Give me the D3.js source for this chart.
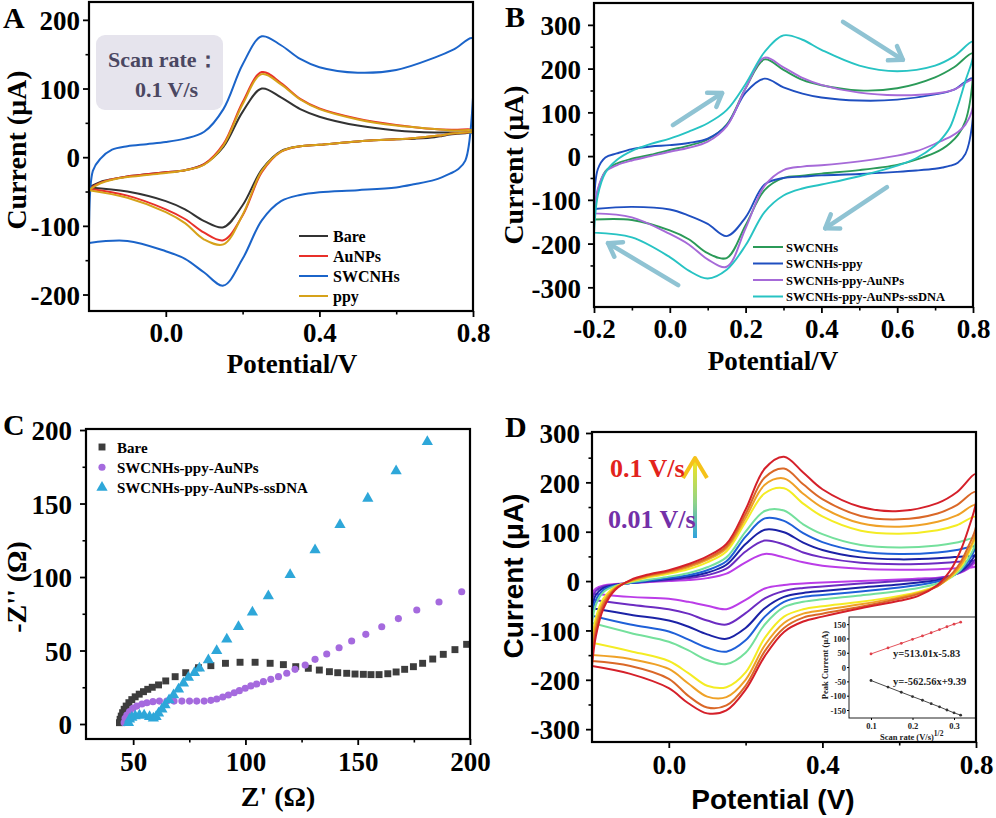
<!DOCTYPE html>
<html><head><meta charset="utf-8">
<script src="https://cdn.jsdelivr.net/npm/d3@7"></script>
<style>body{margin:0;background:#fff}svg{display:block}</style>
</head><body><svg id="c" width="996" height="818"></svg>
<script>
// ================= DATA =================
// common potential grids (V): forward (upper) and reverse (lower) branches
const E_UP = [-0.2,-0.19,-0.17,-0.14,-0.1,-0.05,0,0.05,0.1,0.15,0.2,0.25,0.3,0.35,0.4,0.5,0.6,0.7,0.75,0.8];
const E_DN = [0.8,0.78,0.76,0.74,0.72,0.7,0.65,0.6,0.5,0.4,0.35,0.3,0.25,0.2,0.15,0.1,0.05,0,-0.1,-0.2];

// Panel A (µA)
const A_names = ["Bare","AuNPs","SWCNHs","ppy"];
const A_colors = ["#333333","#e8302a","#1b64c9","#d6a21a"];
const A_bare_up = [-44,-41,-36,-32,-28,-25,-22,-19,-10,15,66,100,87,70,59,46,39,36,36,36];
const A_bare_dn = [36,35,34,33,31,29,27,26,23,18,16,9,-18,-70,-102,-93,-76,-64,-50,-44];
const A_au_up   = [-46,-43,-37,-32,-28,-25,-22,-19,-10,19,80,124,108,85,71,56,47,41,40,40];
const A_au_dn   = [38,36,35,34,32,31,28,26,23,18,16,8,-22,-85,-121,-110,-90,-76,-56,-46];
const A_sw_up   = [-125,-20,-2,11,16,19,22,27,37,70,135,176,163,143,131,123,127,145,157,173];
const A_sw_dn   = [87,-5,-18,-24,-29,-33,-39,-44,-48,-51,-55,-64,-92,-148,-187,-168,-148,-137,-122,-125];
const A_ppy_up  = [-48,-44,-38,-33,-29,-26,-23,-19,-11,17,77,121,106,84,70,55,46,41,39,39];
const A_ppy_dn  = [37,36,35,34,32,31,28,26,23,18,16,8,-20,-84,-127,-120,-96,-80,-59,-48];

// Panel B (µA)
const B_names = ["SWCNHs","SWCNHs-ppy","SWCNHs-ppy-AuNPs","SWCNHs-ppy-AuNPs-ssDNA"];
const B_colors = ["#2b9a58","#1f4fc0","#a66ad8","#27c3c3"];
const B_sw_up  = [-145,-80,-35,-17,-6,3,14,24,38,72,155,221,197,174,162,150,155,180,203,235];
const B_sw_dn  = [182,80,48,30,17,8,-8,-20,-32,-40,-45,-50,-78,-158,-233,-222,-190,-170,-146,-145];
const B_ppy_up = [-121,-30,-3,6,16,22,25,30,40,70,145,177,157,143,134,127,129,141,152,178];
const B_ppy_dn = [90,5,-15,-22,-26,-29,-33,-36,-41,-44,-47,-50,-65,-140,-183,-155,-136,-122,-116,-121];
const B_au_up  = [-131,-75,-36,-21,-10,0,10,19,33,68,155,225,203,179,163,145,139,143,152,174];
const B_au_dn  = [113,72,55,44,36,28,11,1,-12,-21,-24,-32,-68,-165,-253,-236,-202,-178,-140,-131];
const B_dna_up = [-175,-90,-38,-9,12,28,40,56,75,105,165,238,276,266,243,207,194,207,228,262];
const B_dna_dn = [227,172,115,67,42,24,-5,-22,-46,-65,-74,-90,-128,-204,-260,-280,-262,-231,-186,-175];
// direction arrows [E0,I0,E1,I1]
const B_arrows = [[0.008,71,0.138,144],[0.457,307,0.615,220],[0.573,-71,0.41,-165],[0.022,-295,-0.163,-199]];

// Panel C (Ω)
const C_names = ["Bare","SWCNHs-ppy-AuNPs","SWCNHs-ppy-AuNPs-ssDNA"];
const C_bare_x = [43.9,44.2,44.7,45.3,46.0,46.9,48.1,49.4,50.9,52.7,54.6,56.5,58.5,61.3,64.5,68.7,73.4,79.1,84.6,91.1,97.6,104.3,111.0,116.9,122.4,128.0,132.9,137.4,141.1,145.1,148.8,152.5,155.9,159.5,163.4,167.1,170.9,174.8,178.9,183.4,188.1,193.3,198.5];
const C_bare_y = [0.9,3.2,5.4,7.7,10.0,12.2,14.5,16.6,18.5,20.3,22.0,23.6,25.0,26.6,29.3,32.2,34.9,38.3,39.7,41.3,42.0,42.0,41.3,40.4,39.0,37.9,36.7,35.6,34.9,34.5,34.0,33.8,33.6,33.6,34.2,35.4,37.2,39.0,41.3,44.2,47.4,50.6,54.2];
const C_au_x = [46.0,46.4,47.2,48.4,49.9,51.6,53.9,56.1,58.8,61.7,65.0,68.2,71.7,75.1,78.3,81.6,84.6,87.2,89.9,92.4,95.0,97.3,99.9,102.4,105.0,108.0,111.3,114.7,118.4,122.1,126.6,131.0,136.2,141.7,147.3,153.6,160.7,168.1,176.3,186.2,196.3];
const C_au_y = [0.9,3.9,6.1,8.4,10.7,12.2,13.6,14.5,15.2,15.6,15.6,15.6,15.6,15.6,15.6,15.6,16.1,17.0,18.4,19.7,21.3,22.7,24.3,25.9,27.2,28.8,30.4,32.2,34.5,37.2,40.1,44.0,47.6,51.9,56.5,61.0,66.2,71.7,77.6,83.0,90.0];
const C_dna_x = [47.9,48.4,49.4,50.9,52.8,54.9,57.3,59.0,60.2,61.3,62.8,64.2,66.0,68.0,70.2,72.4,74.6,77.3,79.5,83.5,87.2,91.7,96.9,103.1,110.2,119.9,131.0,142.1,154.5,167.1,181.0];
const C_dna_y = [0.9,3.2,4.5,5.4,5.9,5.9,5.0,3.9,5.0,7.3,10.0,12.9,16.3,19.7,23.6,27.7,31.7,34.9,37.9,43.5,49.9,57.6,66.2,76.0,87.1,101.6,118.4,135.6,153.5,172.1,192.0];

// Panel D (µA), scan rates 0.01 ... 0.1 V/s (slow -> fast)
const D_colors = ["#bb3de8","#6c2cc2","#1b22a6","#1f60d8","#74e09c","#f4ec24","#efa127","#da6828","#d5202a"];
const D_up = [
 [-25,-15,-9,-6,-4,-2,0,2,6,15,38,55,48,38,31,25,23,24,26,30],
 [-38,-20,-11,-7,-4,-1,2,6,12,25,60,82,74,58,48,37,34,36,39,43],
 [-55,-28,-14,-8,-4,0,4,9,17,33,75,104,99,78,63,48,44,46,49,53],
 [-70,-38,-18,-9,-4,1,6,12,22,40,90,127,122,97,79,60,55,58,63,71],
 [-85,-48,-22,-10,-3,3,9,16,28,48,100,142,143,115,95,73,68,72,78,87],
 [-125,-75,-35,-12,-1,8,15,24,38,60,120,178,188,157,131,102,96,103,113,130],
 [-150,-88,-42,-14,0,10,18,28,43,66,128,195,208,177,149,117,110,120,133,154],
 [-162,-100,-48,-16,1,12,20,31,46,70,136,210,228,196,166,132,125,137,154,181],
 [-172,-112,-55,-18,2,14,22,34,50,75,145,228,252,220,186,150,142,158,180,217]];
const D_dn = [
 [38,25,17,12,9,7,5,3,0,-3,-5,-8,-15,-38,-57,-50,-42,-36,-32,-25],
 [45,28,18,12,8,5,2,0,-5,-11,-14,-20,-35,-65,-88,-80,-66,-57,-48,-38],
 [55,33,20,12,6,2,-3,-7,-13,-20,-24,-32,-55,-95,-117,-108,-92,-80,-68,-55],
 [70,40,22,11,4,-1,-8,-13,-21,-28,-32,-42,-72,-120,-143,-135,-118,-102,-88,-70],
 [80,45,23,10,1,-5,-14,-20,-29,-37,-42,-53,-88,-145,-168,-160,-140,-123,-105,-85],
 [95,55,28,12,0,-9,-22,-30,-42,-51,-57,-72,-115,-185,-215,-212,-186,-162,-142,-125],
 [100,60,32,14,1,-10,-24,-33,-47,-59,-66,-85,-130,-200,-235,-234,-207,-178,-158,-150],
 [110,70,38,17,2,-10,-26,-36,-52,-66,-74,-95,-142,-212,-252,-256,-232,-198,-172,-162],
 [160,105,62,30,8,-8,-30,-40,-55,-72,-82,-103,-152,-220,-262,-268,-247,-217,-188,-172]];
// inset: peak current vs sqrt(scan rate)
const IN_x  = [0.1,0.141,0.173,0.2,0.224,0.245,0.265,0.283,0.3,0.316];
const IN_ox = [46,67,83,97,109,120,131,141,150,157];
const IN_red= [-47,-70,-88,-103,-116,-128,-139,-150,-160,-168];
const IN_eq = ["y=513.01x-5.83","y=-562.56x+9.39"];

// ================= DRAW =================
const SERIF = "'Liberation Serif','Times New Roman',serif";
const SANS = "'Liberation Sans',Arial,sans-serif";
const svg = d3.select("#c");
svg.append("rect").attr("width",996).attr("height",818).attr("fill","#fff");
const defs = svg.append("defs");

function makePanel(id, x0,x1,y0,y1,xdom,ydom){
  const x = d3.scaleLinear().domain(xdom).range([x0,x1]);
  const y = d3.scaleLinear().domain(ydom).range([y1,y0]);
  defs.append("clipPath").attr("id","clip"+id).append("rect")
    .attr("x",x0).attr("y",y0).attr("width",x1-x0).attr("height",y1-y0);
  const g = svg.append("g").attr("clip-path",`url(#clip${id})`);
  return {x,y,g,x0,x1,y0,y1};
}
const fmt1 = d=>d.toFixed(1).replace("\u2212","-");
const fmt0 = d=>String(d);

function axes(p,o){
  const fs = o.fs||27;
  const gx = svg.append("g").attr("transform",`translate(0,${p.y1})`)
    .call(d3.axisBottom(p.x).tickValues(o.xMaj).tickSize(6).tickSizeOuter(0).tickFormat(o.xfmt));
  gx.select(".domain").remove();
  gx.selectAll("line").attr("stroke","#000").attr("stroke-width",1.8);
  gx.selectAll("text").attr("y",o.xLab).attr("dy",null).attr("font-size",fs)
    .attr("font-family",SERIF).attr("font-weight","bold").attr("fill","#000");
  const gxm = svg.append("g").attr("transform",`translate(0,${p.y1})`)
    .call(d3.axisBottom(p.x).tickValues(o.xMin).tickSize(3.5).tickSizeOuter(0).tickFormat(""));
  gxm.select(".domain").remove(); gxm.selectAll("line").attr("stroke","#000").attr("stroke-width",1.6);
  const gy = svg.append("g").attr("transform",`translate(${p.x0},0)`)
    .call(d3.axisLeft(p.y).tickValues(o.yMaj).tickSize(6).tickSizeOuter(0).tickPadding(o.yPad).tickFormat(o.yfmt));
  gy.select(".domain").remove();
  gy.selectAll("line").attr("stroke","#000").attr("stroke-width",1.8);
  gy.selectAll("text").attr("font-size",fs).attr("dy","0.36em")
    .attr("font-family",SERIF).attr("font-weight","bold").attr("fill","#000");
  const gym = svg.append("g").attr("transform",`translate(${p.x0},0)`)
    .call(d3.axisLeft(p.y).tickValues(o.yMin).tickSize(3.5).tickSizeOuter(0).tickFormat(""));
  gym.select(".domain").remove(); gym.selectAll("line").attr("stroke","#000").attr("stroke-width",1.6);
  svg.append("rect").attr("x",p.x0).attr("y",p.y0).attr("width",p.x1-p.x0).attr("height",p.y1-p.y0)
    .attr("fill","none").attr("stroke","#000").attr("stroke-width",2.2);
}
function text(x,y,s,o){
  const t = svg.append("text").attr("x",x).attr("y",y).text(s)
    .attr("font-family",o.ff||SERIF).attr("font-weight","bold").attr("font-size",o.fs)
    .attr("fill",o.fill||"#000").attr("text-anchor",o.anchor||"start");
  if(o.rot) t.attr("transform",`rotate(-90,${x},${y})`);
  return t;
}
const cvLine = (p)=>d3.line().x(d=>p.x(d[0])).y(d=>p.y(d[1])).curve(d3.curveCatmullRom.alpha(0.5));
function cv(p, up, dn, color, w){
  const pts = E_UP.map((e,i)=>[e,up[i]]).concat(E_DN.map((e,i)=>[e,dn[i]]));
  p.g.append("path").attr("d",cvLine(p)(pts)).attr("fill","none").attr("stroke",color)
    .attr("stroke-width",w||2).attr("stroke-linejoin","round");
}

// ---------- Panel A ----------
const pA = makePanel("A",89,473,2,311,[-0.2,0.8],[-224,226]);
[[A_bare_up,A_bare_dn],[A_au_up,A_au_dn],[A_sw_up,A_sw_dn],[A_ppy_up,A_ppy_dn]]
  .forEach((s,i)=>cv(pA,s[0],s[1],A_colors[i],2));
axes(pA,{xMaj:[0,0.4,0.8],xMin:[0.2,0.6],yMaj:[-200,-100,0,100,200],yMin:[-150,-50,50,150],
  xfmt:fmt1,yfmt:fmt0,xLab:31,yPad:3});
svg.append("rect").attr("x",96).attr("y",35).attr("width",127).attr("height",75).attr("rx",9).attr("fill","#e6e4ed");
text(108,67,"Scan rate\uFF1A",{fs:22,fill:"#4b4762"});
text(135,97,"0.1 V/s",{fs:22,fill:"#4b4762"});
A_names.forEach((n,i)=>{
  const yy = 236+i*20;
  svg.append("line").attr("x1",299).attr("x2",328).attr("y1",yy).attr("y2",yy).attr("stroke",A_colors[i]).attr("stroke-width",2);
  text(333,yy+5.5,n,{fs:16});
});
text(292,373,"Potential/V",{fs:27,anchor:"middle"});
text(26,150,"Current (\u03BCA)",{fs:28,anchor:"middle",rot:true});
text(3,28,"A",{fs:30});

// ---------- Panel B ----------
const pB = makePanel("B",594,973,3,307,[-0.2,0.8],[-345,350]);
[[B_sw_up,B_sw_dn],[B_ppy_up,B_ppy_dn],[B_au_up,B_au_dn],[B_dna_up,B_dna_dn]]
  .forEach((s,i)=>cv(pB,s[0],s[1],B_colors[i],1.9));
B_arrows.forEach(a=>{
  const x0=pB.x(a[0]),y0=pB.y(a[1]),x1=pB.x(a[2]),y1=pB.y(a[3]);
  const ang=Math.atan2(y1-y0,x1-x0), L=15, sp=0.6;
  const col="#8fc3d3";
  svg.append("line").attr("x1",x0).attr("y1",y0).attr("x2",x1).attr("y2",y1)
    .attr("stroke",col).attr("stroke-width",4.5).attr("stroke-linecap","round");
  const pth=`M${x1-L*Math.cos(ang-sp)},${y1-L*Math.sin(ang-sp)}L${x1},${y1}L${x1-L*Math.cos(ang+sp)},${y1-L*Math.sin(ang+sp)}`;
  svg.append("path").attr("d",pth).attr("fill","none").attr("stroke",col).attr("stroke-width",4.5)
    .attr("stroke-linecap","round").attr("stroke-linejoin","round");
});
axes(pB,{xMaj:[-0.2,0,0.2,0.4,0.6,0.8],xMin:[-0.1,0.1,0.3,0.5,0.7],yMaj:[-300,-200,-100,0,100,200,300],
  yMin:[-250,-150,-50,50,150,250],xfmt:fmt1,yfmt:fmt0,xLab:31,yPad:7});
B_names.forEach((n,i)=>{
  const yy = 247+i*16.5;
  svg.append("line").attr("x1",753).attr("x2",783).attr("y1",yy).attr("y2",yy).attr("stroke",B_colors[i]).attr("stroke-width",2);
  text(786,yy+4.5,n,{fs:12.5});
});
text(773,370,"Potential/V",{fs:27,anchor:"middle"});
text(523,165,"Current (\u03BCA)",{fs:28,anchor:"middle",rot:true});
text(505,27,"B",{fs:30});

// ---------- Panel C ----------
const pC = makePanel("C",86,470,429,739,[29,200],[-10.2,200.7]);
const cBare = C_bare_x.map((v,i)=>[v,C_bare_y[i]]);
const cAu = C_au_x.map((v,i)=>[v,C_au_y[i]]);
const cDna = C_dna_x.map((v,i)=>[v,C_dna_y[i]]);
const C_colors = ["#3d3d3d","#a56ade","#2ea7d9"];
const sym = [d3.symbolSquare,d3.symbolCircle,d3.symbolTriangle];
const sz = [48,40,55];
[cBare,cAu,cDna].forEach((arr,k)=>{
  pC.g.selectAll(null).data(arr).enter().append("path")
    .attr("d",d3.symbol().type(sym[k]).size(sz[k]))
    .attr("transform",d=>`translate(${pC.x(d[0])},${pC.y(d[1])})`)
    .attr("fill",C_colors[k]);
});
axes(pC,{xMaj:[50,100,150,200],xMin:[75,125,175],yMaj:[0,50,100,150,200],yMin:[25,75,125,175],
  xfmt:fmt0,yfmt:fmt0,xLab:32,yPad:8});
C_names.forEach((n,i)=>{
  const yy = 447+i*20.3;
  svg.append("path").attr("d",d3.symbol().type(sym[i]).size(sz[i])).attr("transform",`translate(102,${yy})`).attr("fill",C_colors[i]);
  text(117,yy+5.5,n,{fs:15});
});
text(278,806,"Z' (\u03A9)",{fs:28,anchor:"middle"});
text(26,587,"-Z'' (\u03A9)",{fs:28,anchor:"middle",rot:true});
text(3,435,"C",{fs:30});

// ---------- Panel D ----------
const pD = makePanel("D",592,976,432,742,[-0.2,0.8],[-326,302]);
D_up.forEach((u,i)=>cv(pD,u,D_dn[i],D_colors[i],2));
// inset
const ix = d3.scaleLinear().domain([0.047,0.353]).range([849,976]);
const iy = d3.scaleLinear().domain([-178,175]).range([718,617]);
svg.append("rect").attr("x",849).attr("y",617).attr("width",127).attr("height",101).attr("fill","#fff").attr("stroke","#222").attr("stroke-width",1);
const ln = d3.line().x((d,i)=>ix(IN_x[i])).y(d=>iy(d));
[[IN_ox,"#e0404a"],[IN_red,"#333"]].forEach(s=>{
  svg.append("path").attr("d",ln(s[0])).attr("fill","none").attr("stroke",s[1]).attr("stroke-width",0.9);
  svg.selectAll(null).data(s[0]).enter().append("circle").attr("cx",(d,i)=>ix(IN_x[i])).attr("cy",d=>iy(d)).attr("r",1.4).attr("fill",s[1]);
});
const igx = svg.append("g").attr("transform","translate(0,718)")
  .call(d3.axisBottom(ix).tickValues([0.1,0.2,0.3]).tickSize(2).tickSizeOuter(0).tickFormat(d=>d.toFixed(1)));
igx.select(".domain").remove();
igx.selectAll("text").attr("y",11).attr("dy",null).attr("font-size",8.5).attr("font-family",SERIF).attr("font-weight","bold").attr("fill","#222");
const igy = svg.append("g").attr("transform","translate(849,0)")
  .call(d3.axisLeft(iy).tickValues([-150,-100,-50,0,50,100,150]).tickSize(2).tickSizeOuter(0).tickPadding(1).tickFormat(fmt0));
igy.select(".domain").remove();
igy.selectAll("text").attr("dy","0.36em").attr("font-size",8.5).attr("font-family",SERIF).attr("font-weight","bold").attr("fill","#222");
text(893,657,IN_eq[0],{fs:10.5,fill:"#222"});
text(893,685,IN_eq[1],{fs:10.5,fill:"#222"});
text(828,665,"Peak Current (\u03BCA)",{fs:8.5,anchor:"middle",rot:true,fill:"#222"});
const st = text(880,740,"Scan rate (V/s)",{fs:8.5,fill:"#222"});
st.append("tspan").attr("dy",-4).attr("font-size",7.5).text("1/2");

axes(pD,{xMaj:[0,0.4,0.8],xMin:[0.2,0.6],yMaj:[-300,-200,-100,0,100,200,300],
  yMin:[-250,-150,-50,50,150,250],xfmt:fmt1,yfmt:fmt0,xLab:32,yPad:6});
// rate annotation
const gr = defs.append("linearGradient").attr("id","gr").attr("x1",0).attr("x2",0).attr("y1",1).attr("y2",0);
gr.append("stop").attr("offset","0").attr("stop-color","#2fa2dd");
gr.append("stop").attr("offset","0.45").attr("stop-color","#8fd38a");
gr.append("stop").attr("offset","1").attr("stop-color","#f6e51c");
svg.append("rect").attr("x",693).attr("y",460).attr("width",4).attr("height",78).attr("fill","url(#gr)");
svg.append("path").attr("d","M683,478L695,458L707,478").attr("fill","none").attr("stroke","#f5c21a").attr("stroke-width",4).attr("stroke-linejoin","round");
text(610,477,"0.1 V/s",{fs:26,fill:"#e2231c"});
text(608,528,"0.01 V/s",{fs:26,fill:"#7330a8"});
text(773,809,"Potential (V)",{fs:28,anchor:"middle",ff:SANS});
text(523,576,"Current (\u03BCA)",{fs:28,anchor:"middle",rot:true,ff:SANS});
text(505,437,"D",{fs:30});
</script></body></html>
